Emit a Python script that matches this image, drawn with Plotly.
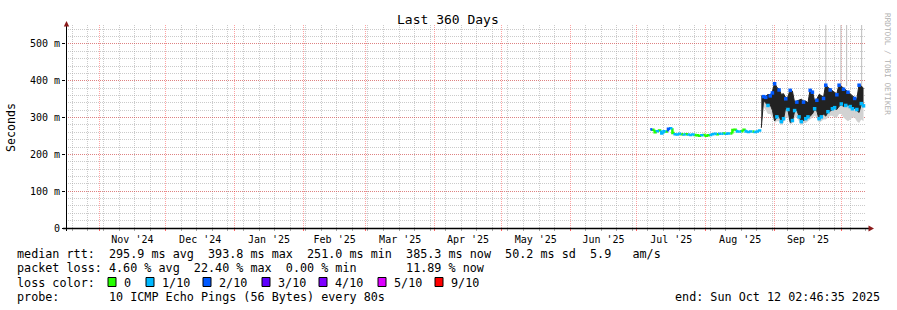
import pandas as pd
import plotly.graph_objects as go

# ---------------- data ----------------
# flat period: daily median RTT (ms) and loss level (tenths) from 2025-07-07
flat_start = "2025-07-07"
flat_ms = [268, 267, 260, 263, 265, 257, 263, 262, 270, 271,
           258, 255, 254, 256, 255, 254, 255, 254, 253, 254,
           253, 252, 251, 252, 253, 251, 252, 253, 255, 256,
           255, 256, 256, 257, 256, 257, 257, 266, 267, 262,
           262, 263, 267, 262, 261, 262, 262, 261, 262, 265]
flat_loss = [2, 0, 0, 1, 0, 1, 1, 0, 2, 1,
             0, 1, 1, 1, 0, 1, 0, 1, 1, 1,
             0, 0, 0, 1, 0, 0, 0, 1, 1, 1,
             0, 1, 1, 0, 1, 1, 0, 0, 0, 1,
             1, 0, 0, 1, 1, 1, 0, 1, 1, 1]

# oscillating period: daily high / low of the dark band (ms) from 2025-08-26
osc_start = "2025-08-26"
osc_hi = [359, 360, 358, 363, 362, 370, 395, 382, 378, 363,
          365, 354, 356, 377, 372, 341, 345, 348, 350, 345,
          345, 340, 377, 372, 345, 350, 363, 360, 355, 391,
          382, 378, 372, 368, 365, 391, 385, 380, 377, 372,
          365, 359, 355, 350, 391, 386, 380]
osc_lo = [272, 345, 340, 331, 335, 320, 291, 300, 305, 287,
          295, 328, 320, 287, 290, 317, 320, 300, 287, 292,
          295, 300, 304, 310, 322, 318, 295, 300, 310, 304,
          314, 318, 322, 325, 322, 331, 335, 330, 331, 335,
          328, 322, 325, 320, 314, 336, 330]
# loss level of the median mark of each day (2/10 marks sit at the top, 1/10 at the bottom)
osc_loss = [0, 2, 2, 1, 2, 2, 2, 1, 2, 1,
            1, 2, 1, 2, 1, 1, 2, 1, 1, 2,
            1, 1, 2, 2, 1, 2, 1, 1, 2, 2,
            1, 2, 1, 1, 2, 2, 1, 2, 1, 2,
            1, 1, 2, 1, 2, 1, 1]
smoke_lo = [272, 330, 320, 310, 310, 300, 285, 290, 290, 280,
            285, 300, 300, 280, 285, 300, 300, 290, 280, 285,
            285, 290, 295, 300, 305, 300, 285, 290, 295, 295,
            300, 305, 305, 300, 300, 310, 310, 300, 295, 290,
            295, 300, 300, 290, 285, 295, 290]
spike_dates = ["2025-09-24 00:30", "2025-09-30 20:00", "2025-10-03 10:00", "2025-10-10 04:00"]
spike_lo_ms = [380, 375, 385, 385]
spike_hi_ms = [560, 560, 560, 560]

loss_levels = [0, 1, 2, 3, 4, 5, 9]
loss_labels = ["0", "1/10", "2/10", "3/10", "4/10", "5/10", "9/10"]
loss_colors = ["#26ff00", "#00b8ff", "#0059ff", "#5e00ff", "#7e00ff", "#dd00ff", "#ff0000"]

y_ticks = [0, 100, 200, 300, 400, 500]
y_ticktext = ["0", "100 m", "200 m", "300 m", "400 m", "500 m"]

x_start = "2024-10-17 02:46:35"
x_end = "2025-10-12 02:46:35"

rtt_stats = (295.9, 393.8, 251.0, 385.3, 50.2, 5.9)
loss_stats = (4.60, 22.40, 0.00, 11.89)
probe_text = "10 ICMP Echo Pings (56 Bytes) every 80s"
end_text = "end: Sun Oct 12 02:46:35 2025"

# ---------------- geometry helpers ----------------
W, H = 897, 310
L, R, T, B = 66, 866, 25, 228
FONT = "DejaVu Sans Mono"


def px(x):
    return (x - L) / (R - L)


def py(y):
    return (B - y) / (B - T)


fig = go.Figure()

flat_dates = pd.date_range(flat_start, periods=len(flat_ms), freq="D")
osc_dates = pd.date_range(osc_start, periods=len(osc_hi), freq="D")

# grey smoke below dark band
fig.add_trace(go.Scatter(x=osc_dates, y=smoke_lo, mode="lines", line=dict(width=0, color="#cccccc"),
                         showlegend=False, hoverinfo="skip"))
fig.add_trace(go.Scatter(x=osc_dates, y=osc_lo, mode="lines", line=dict(width=0, color="#cccccc"),
                         fill="tonexty", fillcolor="#d2d2d2", showlegend=False, hoverinfo="skip"))
# grey spikes
sx, sy = [], []
for d, lo, hi in zip(spike_dates, spike_lo_ms, spike_hi_ms):
    sx += [d, d, None]
    sy += [lo, hi, None]
fig.add_trace(go.Scatter(x=sx, y=sy, mode="lines", line=dict(width=1, color="#bcbcbc"),
                         showlegend=False, hoverinfo="skip"))
# dark band
fig.add_trace(go.Scatter(x=osc_dates, y=osc_lo, mode="lines", line=dict(width=1, color="#222222"),
                         showlegend=False, hoverinfo="skip"))
fig.add_trace(go.Scatter(x=osc_dates, y=osc_hi, mode="lines", line=dict(width=1, color="#222222"),
                         fill="tonexty", fillcolor="#222222", showlegend=False, hoverinfo="skip"))

# median line (flat period) coloured by loss, step style
seg = {lv: ([], []) for lv in loss_levels}
for i, (v, lv) in enumerate(zip(flat_ms, flat_loss)):
    d0 = flat_dates[i]
    d1 = d0 + pd.Timedelta(days=1)
    prev = flat_ms[i - 1] if i > 0 else v
    xs, ys = seg[lv]
    xs += [d0, d0, d1, None]
    ys += [prev, v, v, None]
for lv, col in zip(loss_levels, loss_colors):
    xs, ys = seg[lv]
    if xs:
        fig.add_trace(go.Scatter(x=xs, y=ys, mode="lines", line=dict(width=2.5, color=col),
                                 showlegend=False, hoverinfo="skip"))

# median marks on the oscillating band
mx, my, mc = [], [], []
for d, hi, lo, lv in zip(osc_dates, osc_hi, osc_lo, osc_loss):
    if lv == 0:
        continue
    mx.append(d)
    my.append(hi - 3 if lv == 2 else lo + 2)
    mc.append(loss_colors[loss_levels.index(lv)])
fig.add_trace(go.Scatter(x=mx, y=my, mode="markers",
                         marker=dict(symbol="square", size=3.5, color=mc, line=dict(width=0)),
                         showlegend=False, hoverinfo="skip"))

GRID = "rgba(160,160,160,0.55)"
MGRID = "rgba(255,0,0,0.36)"

fig.update_xaxes(
    type="date", range=[x_start, x_end], showline=False, zeroline=False,
    dtick="M1", tick0="2024-11-01", tickformat="%b '%y", ticklabelmode="period",
    ticks="outside", ticklen=2, tickcolor="rgba(255,0,0,0.6)",
    showgrid=True, gridcolor=MGRID, griddash="1px,1px", gridwidth=1,
    tickfont=dict(family=FONT, size=10, color="#000"),
    minor=dict(dtick=7 * 86400000, tick0="2024-10-20", showgrid=True, gridcolor=GRID,
               griddash="1px,1px", gridwidth=1, ticks="outside", ticklen=2, tickcolor="#aaaaaa"),
    fixedrange=True,
)
fig.update_yaxes(
    range=[0, 551.6], showline=False, zeroline=False,
    tickmode="array", tickvals=y_ticks, ticktext=y_ticktext,
    ticks="outside", ticklen=3, tickcolor="#000", tickwidth=1,
    showgrid=True, gridcolor=MGRID, griddash="1px,1px", gridwidth=1,
    tickfont=dict(family=FONT, size=10, color="#000"),
    minor=dict(dtick=20, showgrid=True, gridcolor=GRID, griddash="1px,1px", gridwidth=1),
    fixedrange=True,
)

shapes = []
ARROW = "#8b1a1a"
# axes lines
shapes.append(dict(type="line", xref="paper", yref="paper", x0=px(66.5), x1=px(66.5), y0=py(231), y1=py(25),
                   line=dict(color="#000", width=1)))
shapes.append(dict(type="line", xref="paper", yref="paper", x0=px(63), x1=px(869), y0=py(228.5), y1=py(228.5),
                   line=dict(color="#000", width=1.5)))
# arrows
shapes.append(dict(type="path", xref="paper", yref="paper",
                   path=f"M {px(63.8)} {py(26.5)} L {px(69.2)} {py(26.5)} L {px(66.5)} {py(21)} Z",
                   fillcolor=ARROW, line=dict(width=0)))
shapes.append(dict(type="path", xref="paper", yref="paper",
                   path=f"M {px(868.5)} {py(225.5)} L {px(868.5)} {py(231.5)} L {px(874)} {py(228.5)} Z",
                   fillcolor=ARROW, line=dict(width=0)))

annotations = []


def txt(x, y, s, size=11.75, anchor="left", color="#000", angle=0):
    annotations.append(dict(xref="paper", yref="paper", x=px(x), y=py(y), text=s.replace(" ", "\u00a0"),
                            showarrow=False, xanchor=anchor, yanchor="middle", borderpad=0,
                            textangle=angle, font=dict(family=FONT, size=size, color=color)))


txt(448, 19, "Last 360 Days", size=13, anchor="center")
txt(11, 127, "Seconds", size=11.6, anchor="center", angle=-90)
txt(888, 64, "RRDTOOL / TOBI OETIKER", size=7.7, anchor="center", color="#b0b0b0", angle=90)

row1 = ("median rtt:  %.1f ms avg  %.1f ms max  %.1f ms min  %.1f ms now  %.1f ms sd  %.1f   am/s"
        % rtt_stats)
row2 = "packet loss: %.2f %% avg  %.2f %% max  %.2f %% min       %.2f %% now" % loss_stats
txt(16, 254, row1)
txt(16, 268.3, row2)
txt(16, 282.5, "loss color:")
txt(16, 296.7, "probe:       " + probe_text)
txt(881, 296.7, end_text, anchor="right")

box_x = [108, 146, 203, 262, 319, 378, 435]
for bx, lab, col in zip(box_x, loss_labels, loss_colors):
    shapes.append(dict(type="rect", xref="paper", yref="paper", x0=px(bx), x1=px(bx + 8),
                       y0=py(286.5), y1=py(277.5), fillcolor=col, line=dict(color="#000", width=1)))
    txt(bx + 15, 282.5, lab)

fig.update_layout(
    width=W, height=H, margin=dict(l=L, r=W - R, t=T, b=H - B),
    paper_bgcolor="#fff", plot_bgcolor="#fff",
    showlegend=False, shapes=shapes, annotations=annotations,
    font=dict(family=FONT, color="#000"),
)

fig.write_html("out.html")
